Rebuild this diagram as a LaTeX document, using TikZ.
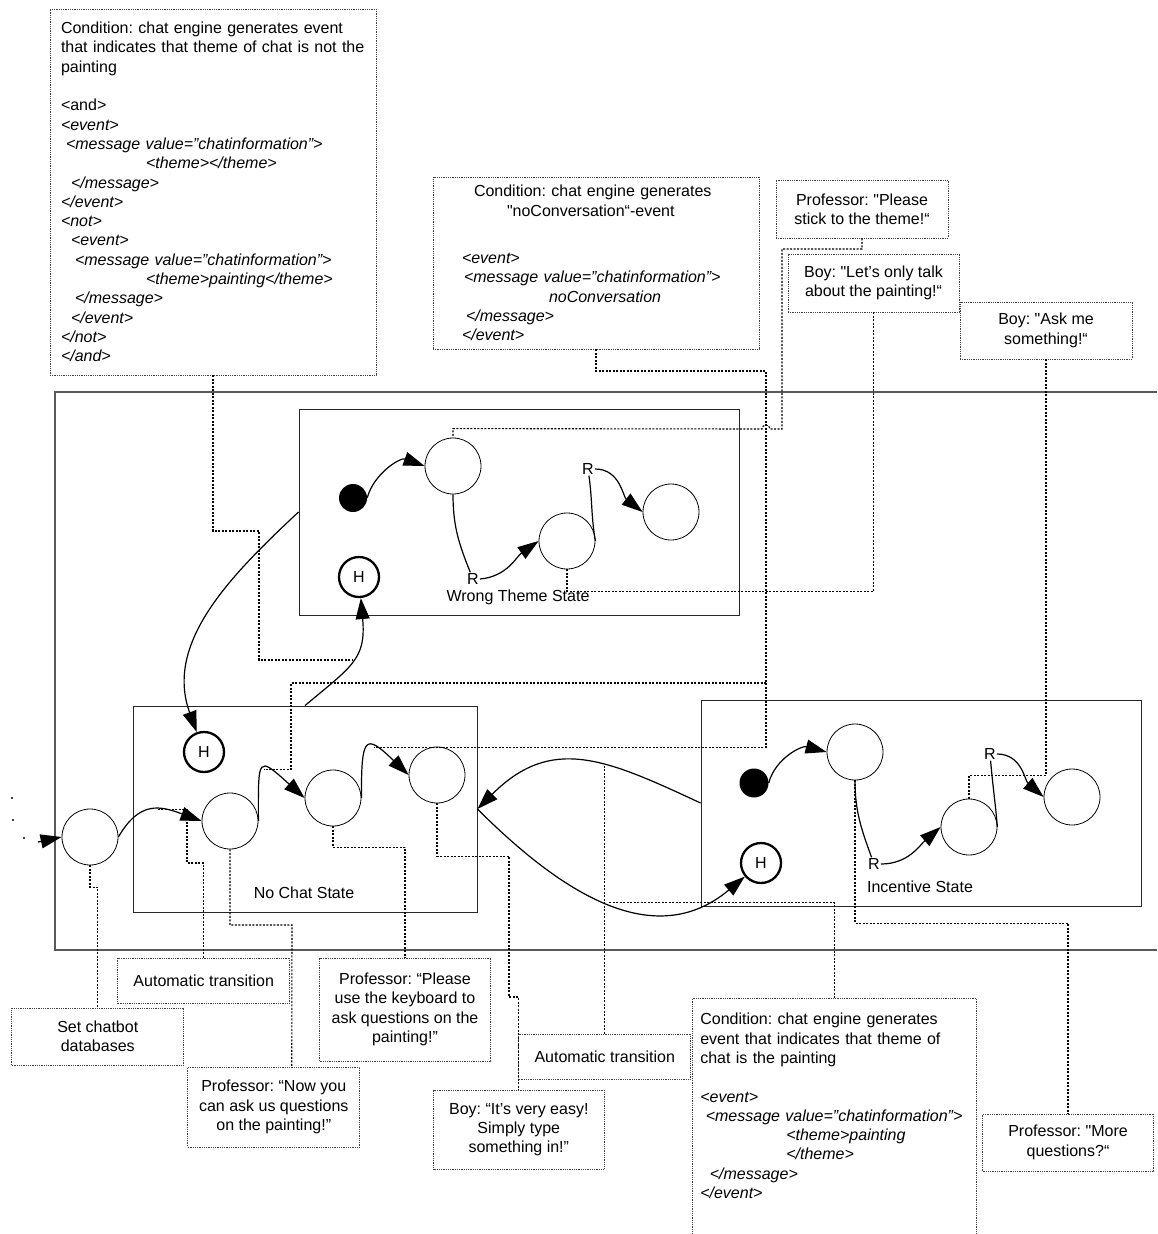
\documentclass[tikz,border=0pt]{standalone}
\usepackage{fontspec}
\setmainfont{Liberation Sans}
\newfontfamily\diagfont{Liberation Sans}
\usepackage{tikz}
\usetikzlibrary{arrows.meta,positioning,calc}
\tikzset{
superstate/.style = {draw=black!85, line width=0.9pt, rectangle, inner sep=0pt},
circ/.style = {draw, circle, line width=0.8pt, minimum size=56pt, inner sep=0pt},
initdot/.style = {fill, circle, minimum size=28pt, inner sep=0pt},
hist/.style = {draw, circle, line width=2.3pt, minimum size=40pt, inner sep=0pt},
lbl/.style = {inner sep=1pt},
note/.style = {draw=black!75, densely dotted, line width=0.8pt, fill=white, align=center, minimum width=172pt, inner sep=0pt},
trans/.style = {-{Triangle[length=21pt 0 0,width=14pt 0 0]}, line width=1.2pt},
link/.style = {dash pattern=on 2pt off 1.5pt, line width=1.1pt}
}
\frenchspacing

\begin{document}
\begin{tikzpicture}[x=1pt, y=1pt, font=\diagfont\fontsize{16}{19.3}\selectfont]
    \useasboundingbox (0,0) rectangle (1157,-1234);
    \draw [black!65, line width=1.2pt] (1157,-392) -| (55,-950) -- (1157,-950);

    \node [superstate, minimum width=440pt, minimum height=206pt] (wrong) at (519,-512) {};
    \node [superstate, minimum width=344pt, minimum height=206pt] (nochat) at (305,-809) {};
    \node [superstate, minimum width=440pt, minimum height=206pt] (incent) at (921,-803) {};
    \node [lbl] (wronglbl) at (518,-597) {Wrong Theme State};
    \node [lbl] (nochatlbl) at (304,-893) {No Chat State};
    \node [lbl] (incentlbl) at (920,-887) {Incentive State};

    \node [initdot] (winit) at (353,-498) {};
    \node [circ] (a1) at (453,-466) {};
    \node [circ, right of=a1, node distance=114pt, yshift=-75pt] (a2) {};
    \node [circ, right of=a2, node distance=104pt, yshift=29pt] (a3) {};
    \node [hist] (hwrong) at (359,-577) {H};
    \node [lbl] (r1) at (473,-579) {R};
    \node [lbl] (r2) at (588,-469) {R};

    \node [initdot, minimum size=29pt] (iinit) at (754,-783) {};
    \node [circ] (i1) at (855,-752) {};
    \node [circ, right of=i1, node distance=114pt, yshift=-75pt] (i2) {};
    \node [circ, right of=i2, node distance=103pt, yshift=30pt] (i3) {};
    \node [hist] (hincent) at (761,-863) {H};
    \node [lbl] (r3) at (874,-864) {R};
    \node [lbl] (r4) at (990,-754) {R};

    \node [circ] (s0) at (90,-837) {};
    \node [circ] (n1) at (230,-821) {};
    \node [circ, right of=n1, node distance=103pt, yshift=23pt] (n2) {};
    \node [circ, right of=n2, node distance=104pt, yshift=23pt] (n3) {};
    \node [hist] (hnochat) at (204,-752) {H};
    \coordinate (entry) at (38,-842);
    \foreach \x/\y in {12/-798, 13/-820, 24/-838}
        \fill (\x,\y) circle (1.2);

    \draw [trans] (winit.east) to[out=75,in=160] (a1.west);
    \draw [trans, -] (a1.south) to[out=-90,in=112] (r1);
    \draw [trans] (r1.east) to[out=5,in=215] (a2.west);
    \draw [trans, -] (a2.east) to[out=100,in=-82] (r2);
    \draw [trans] (r2.east) to[out=0,in=142] (a3.west);

    \draw [trans] (iinit.east) to[out=75,in=165] (i1.west);
    \draw [trans, -] (i1.south) to[out=-90,in=110] (r3);
    \draw [trans] (r3.east) to[out=0,in=221] (i2.west);
    \draw [trans, -] (i2.east) to[out=95,in=-85] (r4);
    \draw [trans] (r4.east) to[out=0,in=139] (i3.west);

    \draw [trans] (entry) -- (s0.west);
    \draw [trans] (s0.east) to[out=60,in=160,looseness=1.3] coordinate[pos=0.55] (autoa) (n1.west);
    \draw [trans] (n1.east) to[out=90,in=138,looseness=3.2] coordinate[pos=0.5] (nca) (n2.west);
    \draw [trans] (n2.east) to[out=90,in=136,looseness=3] coordinate[pos=0.62] (ncb) (n3.west);

    \draw [trans] (wrong.west) to[out=223,in=110] (hnochat);
    \draw [trans] (nochat.north) to[out=40,in=-85,looseness=1.3] coordinate[pos=0.5] (tonw) (hwrong);
    \draw [trans] (incent.west) to[out=155,in=45,looseness=1.2] coordinate[pos=0.4] (toni) (nochat.east);
    \draw [trans] (nochat.east) to[out=-45,in=220,looseness=1.1] coordinate[pos=0.5] (toin) (hincent);

    \node [note, text width=304pt, align=left, minimum width=326pt, minimum height=366pt] (cond1) at (213,-192) {Condition: chat engine generates event\\
that indicates that theme of chat is not the\\
painting\\[19.3pt]
<and>\\
\itshape <event>\\
\hspace*{5pt}<message value=”chatinformation”>\\
\hspace*{85pt}<theme></theme>\\
\hspace*{10pt}</message>\\
</event>\\
<not>\\
\hspace*{10pt}<event>\\
\hspace*{14pt}<message value=”chatinformation”>\\
\hspace*{85pt}<theme>painting</theme>\\
\hspace*{14pt}</message>\\
\hspace*{10pt}</event>\\
</not>\\
</and>};

    \node [note, text width=268pt, align=left, minimum width=326pt, minimum height=172pt] (cond2) at (596,-263) {\hspace*{12pt}Condition: chat engine generates\\
\hspace*{45pt}"noConversation“-event\\[28pt]
\itshape <event>\\
\hspace*{2pt}<message value=”chatinformation”>\\
\hspace*{87pt}noConversation\\
\hspace*{4pt}</message>\\
</event>};

    \node [note, anchor=north, minimum width=284.6pt, minimum height=262pt] (cond3) at (834.3,-998) {};
    \node [anchor=north west, text width=268pt, align=left, inner sep=0pt] (cond3txt) at ([xshift=8.5pt,yshift=-15pt]cond3.north west) {Condition: chat engine generates\\
event that indicates that theme of\\
chat is the painting\\[19.3pt]
\itshape <event>\\
\hspace*{5.5pt}<message value=”chatinformation”>\\
\hspace*{86pt}<theme>painting\\
\hspace*{86pt}</theme>\\
\hspace*{9.5pt}</message>\\
</event>};

    \node [note, minimum height=58pt] (prof1) at (862,-209) {Professor: "Please\\stick to the theme!“};
    \node [note, minimum width=171pt, minimum height=58pt] (boy1) at (873.5,-283) {Boy: "Let’s only talk\\about the painting!“};
    \node [note, minimum height=57pt] (boy2) at (1046,-330.5) {Boy: "Ask me\\something!“};
    \node [note, minimum height=57pt] (setdb) at (97.75,-1036.5) {Set chatbot\\databases};
    \node [note, minimum height=45pt] (auto1) at (203.75,-980.5) {Automatic transition};
    \node [note, minimum height=80pt] (prof2) at (273.75,-1107) {Professor: “Now you\\can ask us questions\\on the painting!”};
    \node [note, minimum width=171pt, minimum height=103pt] (prof3) at (405,-1009.5) {Professor: “Please\\use the keyboard to\\ask questions on the\\painting!”};
    \node [note, minimum width=170.4pt, minimum height=79pt] (boy3) at (518.8,-1129.5) {Boy: “It’s very easy!\\Simply type\\something in!”};
    \node [note, minimum height=45pt] (auto2) at (604.8,-1056.5) {Automatic transition};
    \node [note, minimum width=171pt, minimum height=57pt] (prof4) at (1068,-1142.5) {Professor: "More\\questions?“};

    \coordinate (split) at (766,-683);
    \draw [link] (cond1.south) |- (259,-531) |- (tonw);
    \draw [link] (cond2.south) |- (766,-371) |- (ncb);
    \draw [link] (split) -- (291,-683) |- (nca);
    \draw [link] (prof1.south) |- (782,-249) |- (770,-429) arc[start angle=0, end angle=180, radius=4pt] -- ([yshift=9pt]a1.north) -- (a1.north);
    \draw [link] (boy1.south) |- ([yshift=-22pt]a2.south) -- (a2.south);
    \draw [link] (boy2.south) |- ([yshift=23pt]i2.north) -- (i2.north);
    \draw [link] (s0.south) -- ++(0,-22) -| (setdb.north);
    \draw [link] (auto1.north) |- (187,-863) |- (autoa);
    \draw [link] (n1.south) |- (292,-925) -- ([xshift=18pt]prof2.north);
    \draw [link] (n2.south) -- ++(0,-21) -| (prof3.north);
    \draw [link] (n3.south) -- ++(0,-53) -| (509,-997) -| (boy3.north);
    \draw [link] (auto2.north) -- (auto2.north |- toni);
    \draw [link] (cond3.north) |- (toin);
    \draw [link] (i1.south) -- ++(0,-143) -| (prof4.north);
\end{tikzpicture}
\end{document}
